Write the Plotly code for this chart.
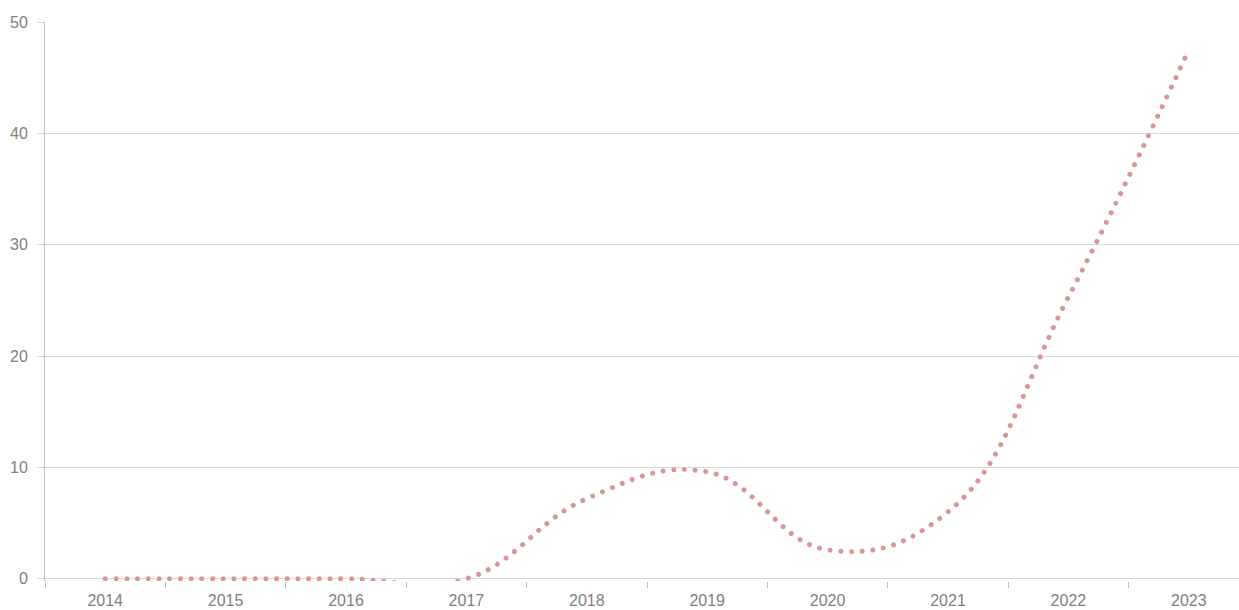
import plotly.graph_objects as go

years = ["2014", "2015", "2016", "2017", "2018", "2019", "2020", "2021", "2022", "2023"]
values = [0, 0, 0, 0, 7.2, 9.6, 2.6, 6.0, 25.3, 47.5]
y_ticks = [0, 10, 20, 30, 40, 50]

fig = go.Figure()
fig.add_trace(go.Scatter(
    x=years, y=values, mode="lines",
    line=dict(color="#D99694", width=5, dash="0.01px,10.7px", shape="spline", smoothing=1.2),
    hoverinfo="skip", showlegend=False,
))

font = dict(family="Liberation Sans, Arial, sans-serif", size=16, color="#808080")
fig.update_layout(
    width=1239, height=610,
    margin=dict(l=45, r=0, t=22, b=29, autoexpand=False),
    paper_bgcolor="white", plot_bgcolor="white",
    showlegend=False,
)
fig.update_xaxes(
    type="category", range=[-0.5, 9.417], automargin=False,
    tickson="boundaries", ticks="outside", ticklen=6, tickcolor="#BFBFBF",
    showgrid=False, showline=False, zeroline=False,
    tickfont=font, ticklabelstandoff=8,
)
fig.update_yaxes(
    range=[-0.2, 50], tickvals=y_ticks, automargin=False,
    showgrid=True, gridcolor="#D9D9D9", gridwidth=1,
    zeroline=True, zerolinecolor="#D9D9D9", zerolinewidth=1,
    ticks="outside", ticklen=7, tickcolor="#D9D9D9",
    showline=True, linecolor="#BFBFBF", linewidth=1,
    tickfont=font, ticklabelstandoff=6,
)
post = (
    "document.body.style.margin='0';document.body.style.overflow='hidden';"
    "document.querySelectorAll('.scatterlayer path.js-line').forEach(function(p){p.style.strokeLinecap='round';});"
)
fig.write_html("out.html", config={"displayModeBar": False}, post_script=post)
